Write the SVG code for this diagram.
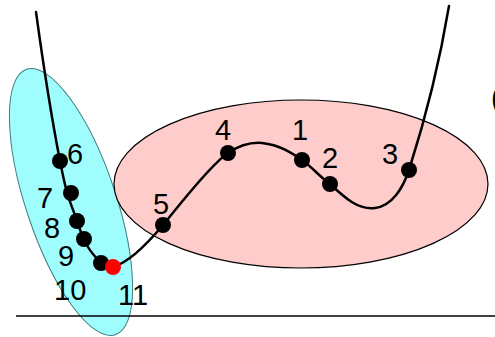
<svg xmlns="http://www.w3.org/2000/svg" width="495" height="337" viewBox="0 0 495 337">
<style>
.lbl{font-family:"Liberation Sans",Arial,sans-serif;font-size:29px;fill:#000}
.dot{fill:#000}
.curve{fill:none;stroke:#000;stroke-width:2.5;stroke-linecap:round}
</style>
<rect width="495" height="337" fill="#fff"/>
<g id="cluster-blue">
<ellipse cx="71" cy="202" rx="140" ry="45" transform="rotate(71.5 71 202)" fill="#9ffdfd" stroke="#3f7f7f" stroke-width="1"/>
</g>
<g id="cluster-pink">
<ellipse cx="301" cy="184" rx="187" ry="84" fill="#ffcccc" stroke="#000" stroke-width="1.2"/>
</g>
<g id="axis">
<line x1="16" y1="316" x2="495" y2="316" stroke="#000" stroke-width="1.5"/>
</g>
<g id="connectors">
<path class="curve" d="M36,12 C44,70 52,120 60,161 S70,200 77,221 S88,250 101,263 Q106,268 113,267 C130,262 148,243 163,225 S210,165 228,153 C240,145 250,142 262,143 C280,145 292,153 302,160 S320,177 330,184 C345,198 358,210 375,208 C392,206 403,188 409,170 C425,120 440,60 449,6"/>
</g>
<g id="n6"><circle class="dot" cx="60" cy="161" r="8"/><text class="lbl" x="67" y="164">6</text></g>
<g id="n7"><circle class="dot" cx="71" cy="193" r="8"/><text class="lbl" x="37" y="208">7</text></g>
<g id="n8"><circle class="dot" cx="77" cy="221" r="8"/><text class="lbl" x="44" y="238">8</text></g>
<g id="n9"><circle class="dot" cx="84" cy="239" r="8"/><text class="lbl" x="58" y="266">9</text></g>
<g id="n10"><circle class="dot" cx="101" cy="263" r="8"/><text class="lbl" x="54" y="300">10</text></g>
<g id="n11"><circle cx="113" cy="267" r="8" fill="#ff0000"/><text class="lbl" x="118" y="305">11</text></g>
<g id="n5"><circle class="dot" cx="163" cy="225" r="8"/><text class="lbl" x="153" y="214">5</text></g>
<g id="n4"><circle class="dot" cx="228" cy="153" r="8"/><text class="lbl" x="215" y="140">4</text></g>
<g id="n1"><circle class="dot" cx="302" cy="160" r="8"/><text class="lbl" x="292" y="140">1</text></g>
<g id="n2"><circle class="dot" cx="330" cy="184" r="8"/><text class="lbl" x="322" y="168">2</text></g>
<g id="n3"><circle class="dot" cx="409" cy="170" r="8"/><text class="lbl" x="382" y="164">3</text></g>
<g id="edge-text"><text class="lbl" x="491" y="108">(</text></g>
</svg>
